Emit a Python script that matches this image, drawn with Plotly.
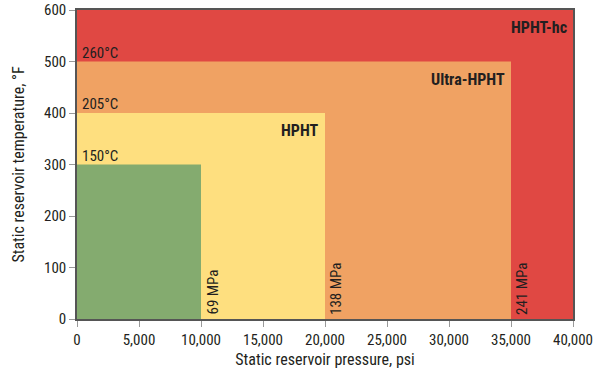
import plotly.graph_objects as go

# Data
classes = ["HPHT-hc", "Ultra-HPHT", "HPHT", "Conventional"]
pressure_limits_psi = [40000, 35000, 20000, 10000]
temp_limits_F = [600, 500, 400, 300]
mpa_labels = ["241 MPa", "138 MPa", "69 MPa"]
mpa_positions = [35000, 20000, 10000]
celsius_labels = ["260°C", "205°C", "150°C"]
celsius_positions = [500, 400, 300]
colors = ["#E04843", "#F0A263", "#FEDF7F", "#84AB6F"]

FONT = "Liberation Sans Narrow, Arial Narrow, Roboto Condensed, sans-serif"

fig = go.Figure()

for name, p, t, c in zip(classes, pressure_limits_psi, temp_limits_F, colors):
    fig.add_trace(go.Scatter(
        x=[0, p, p, 0, 0], y=[0, 0, t, t, 0], fill="toself", fillcolor=c,
        mode="lines", line=dict(width=0), name=name, hoverinfo="name",
    ))

# Class names (bold, top-right inside region)
for name, p, t in zip(classes[:3], pressure_limits_psi[:3], temp_limits_F[:3]):
    fig.add_annotation(x=p, y=t, text="<b>" + name + "</b>", showarrow=False,
                       xanchor="right", yanchor="top", xshift=-4, yshift=-6,
                       font=dict(family=FONT, size=16, color="#231F20"))

# Celsius labels
for lab, t in zip(celsius_labels, celsius_positions):
    fig.add_annotation(x=0, y=t, text=lab, showarrow=False, xanchor="left",
                       yanchor="bottom", xshift=3, yshift=-2,
                       font=dict(family=FONT, size=15, color="#231F20"))

# MPa labels
for lab, p in zip(mpa_labels, mpa_positions):
    fig.add_annotation(x=p, y=0, text=lab, showarrow=False, textangle=-90,
                       xanchor="left", yanchor="bottom", xshift=0, yshift=2,
                       font=dict(family=FONT, size=15, color="#231F20"))

axis_common = dict(showgrid=False, zeroline=False, showline=True, linecolor="#555555",
                   linewidth=1.5, mirror=True, ticks="outside", ticklen=6,
                   tickcolor="#999999", automargin=False,
                   tickfont=dict(family=FONT, size=15, color="#231F20"),
                   title_font=dict(family=FONT, size=16, color="#231F20"))

fig.update_xaxes(range=[0, 40000], tickvals=list(range(0, 40001, 5000)),
                 tickformat=",d", title_text="Static reservoir pressure, psi",
                 title_standoff=6, **axis_common)
fig.update_yaxes(range=[0, 600], tickvals=list(range(0, 601, 100)),
                 title_text="Static reservoir temperature, °F", title_standoff=15,
                 **axis_common)

fig.update_layout(width=600, height=376, margin=dict(l=77, r=27, t=10, b=57),
                  plot_bgcolor="white", paper_bgcolor="white", showlegend=False,
                  font=dict(family=FONT))

fig.write_html("out.html", config={"displayModeBar": False},
               post_script="document.body.style.margin='0';document.body.style.overflow='hidden';")
